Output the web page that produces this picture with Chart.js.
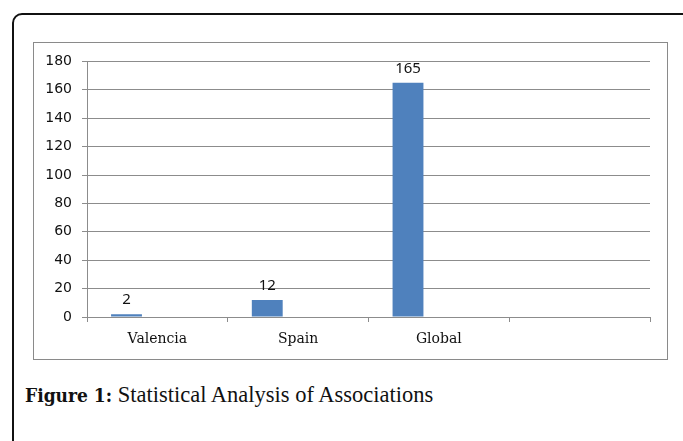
<!DOCTYPE html>
<html>
<head>
<meta charset="utf-8">
<script src="https://cdn.jsdelivr.net/npm/chart.js@4/dist/chart.umd.min.js"></script>
<style>
  html, body { margin: 0; padding: 0; background: #fff; }
  body { width: 683px; height: 441px; position: relative; overflow: hidden; }
  #frame {
    position: absolute; left: 12px; top: 13px; width: 700px; height: 460px;
    border: 2px solid #111; border-radius: 10px;
  }
  #box {
    position: absolute; left: 33px; top: 42px; width: 633px; height: 316px;
    border: 1px solid #8a8a8a;
  }
  #caption {
    position: absolute; left: 25px; top: 382px;
    font-family: "Liberation Serif", serif; font-size: 22.5px; color: #111;
    white-space: nowrap;
  }
  #caption b { font-family: "DejaVu Serif Condensed", "Liberation Serif", serif; font-size: 19px; }
</style>
</head>
<body>
<div id="frame"></div>
<div id="box"><canvas id="chart" width="633" height="316"></canvas></div>
<div id="caption"><b>Figure 1:</b> Statistical Analysis of Associations</div>
<script>
// values
const categories = ['Valencia', 'Spain', 'Global', ''];
const associations = [2, 12, 165, null];
const series2 = [null, null, null, null];
const series3 = [null, null, null, null];
const yMin = 0, yMax = 180, yStep = 20;

const barColor = '#4f81bd';
const gridColor = '#8c8c8c';

// numbers above the bars of the first series
const valueLabels = {
  id: 'valueLabels',
  afterDatasetsDraw(chart) {
    const ctx = chart.ctx;
    const meta = chart.getDatasetMeta(0);
    ctx.save();
    ctx.font = '15px "Noto Sans", sans-serif';
    ctx.fillStyle = '#111';
    ctx.textAlign = 'center';
    ctx.textBaseline = 'alphabetic';
    meta.data.forEach((bar, i) => {
      const v = associations[i];
      if (v == null) return;
      ctx.fillText(String(v), bar.x, bar.y - 10);
    });
    ctx.restore();
  }
};

const ctx = document.getElementById('chart');
let myChart = new Chart(ctx, {
  type: 'bar',
  data: {
    labels: categories,
    datasets: [
      { data: associations, backgroundColor: barColor },
      { data: series2, backgroundColor: '#c0504d' },
      { data: series3, backgroundColor: '#9bbb59' }
    ]
  },
  options: {
    responsive: false,
    animation: false,
    devicePixelRatio: 1,
    layout: { padding: { top: 17, right: 17, left: 0, bottom: 0 } },
    plugins: { legend: { display: false }, tooltip: { enabled: false } },
    datasets: { bar: { categoryPercentage: 0.658, barPercentage: 1.0 } },
    scales: {
      x: {
        offset: true,
        grid: {
          display: true, drawOnChartArea: false, drawTicks: true,
          tickLength: 5, color: gridColor, offset: true
        },
        border: { display: true, color: gridColor },
        ticks: {
          color: '#111', padding: 9,
          font: { family: '"DejaVu Serif", serif', size: 14 }
        },
        afterFit: s => { s.height = 42; }
      },
      y: {
        min: yMin, max: yMax,
        grid: { color: gridColor, tickLength: 5 },
        border: { display: true, color: gridColor },
        ticks: {
          stepSize: yStep, color: '#111', padding: 10,
          font: { family: '"DejaVu Sans", sans-serif', size: 14 }
        },
        afterFit: s => { s.width = 53; }
      }
    }
  },
  plugins: [valueLabels]
});
</script>
</body>
</html>
